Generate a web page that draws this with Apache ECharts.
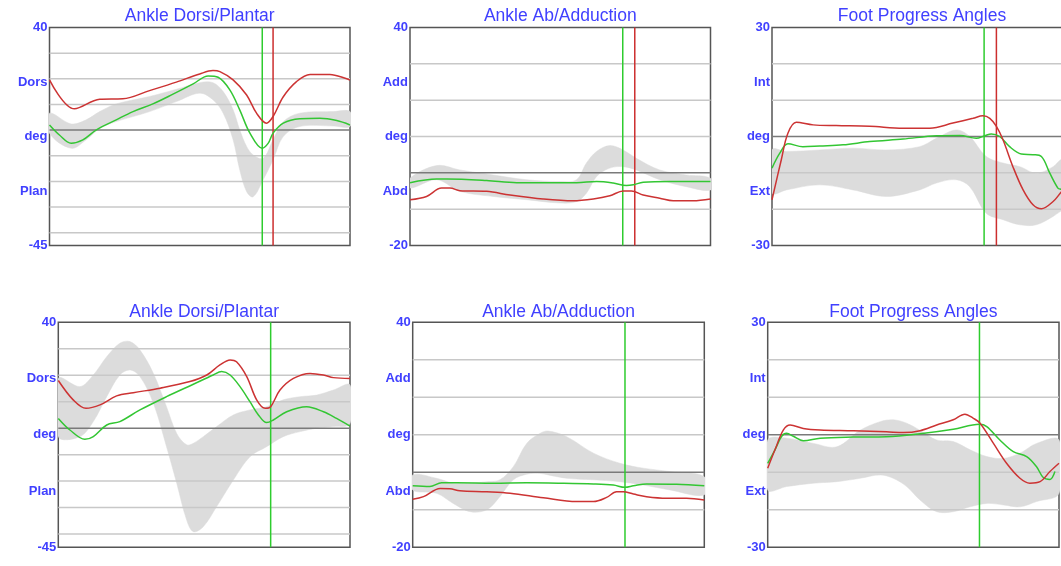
<!DOCTYPE html>
<html><head><meta charset="utf-8">
<script src="https://cdn.jsdelivr.net/npm/echarts@6/dist/echarts.min.js"></script>
<style>html,body{margin:0;padding:0;background:#fff}#c{width:1061px;height:566px}</style>
</head><body><div id="c"></div>
<script>
// ---------- DATA ----------
const titles = ['Ankle Dorsi/Plantar','Ankle Ab/Adduction','Foot Progress Angles','Ankle Dorsi/Plantar','Ankle Ab/Adduction','Foot Progress Angles'];
const yMin = [-45,-20,-30,-45,-20,-30];
const yMax = [40,40,30,40,40,30];
const tickLabels = [
  ['-45','Plan','deg','Dors','40'],
  ['-20','Abd','deg','Add','40'],
  ['-30','Ext','deg','Int','30'],
  ['-45','Plan','deg','Dors','40'],
  ['-20','Abd','deg','Add','40'],
  ['-30','Ext','deg','Int','30']
];
const gridValues = [
  [-40,-30,-20,-10,10,20,30],
  [-10,10,20,30],
  [-20,-10,10,20],
  [-40,-30,-20,-10,10,20,30],
  [-10,10,20,30],
  [-20,-10,10,20]
];
const zeroValue = 0;
const greenEvent = [70.8, 70.8, 70.7, 72.8, 72.8, 72.7];
const redEvent = [74.4, 74.8, 74.8, null, null, null];

// Panel 1: Ankle Dorsi/Plantar (top)
const p1RedX = [0, 8.3, 16.7, 24.4, 33.3, 42.2, 50, 54.4, 56.7, 61.1, 65.6, 68.9, 72.2, 74.4, 77.8, 82.2, 86.7, 93.3, 98.9, 100];
const p1RedY = [19.6, 8.3, 12, 12.2, 15.4, 18.7, 21.9, 23.2, 22.8, 19.6, 13.7, 6.6, 2.7, 5.3, 13, 18.9, 21.7, 21.7, 20, 19.5];
const p1GreenX = [0, 3.3, 7.2, 11.1, 15.6, 22.2, 27.8, 34.4, 41.1, 47.8, 52.8, 56.1, 60, 63.3, 66.7, 70.8, 72.8, 74.4, 77.8, 83.3, 90, 95.6, 100];
const p1GreenY = [2, -1.9, -5.1, -3.8, 0.1, 4, 7.2, 10.2, 14, 18, 21.1, 20.6, 15.7, 7.9, -1.2, -7.1, -5.1, -1.2, 2.7, 4.4, 4.6, 3.7, 2];
const p1BandX = [0, 7.2, 12.2, 16.7, 22.2, 33.3, 42.2, 50, 54.4, 57.8, 61.1, 63.3, 65.6, 67.8, 71.1, 74.4, 77.8, 83.3, 94.4, 100];
const p1BandHigh = [6.6, 2.4, 4, 7.2, 10.2, 13.1, 15.9, 18.5, 18.5, 15, 7.9, 0.1, -6.4, -9.7, -11, -3.8, 3.3, 6.6, 7.2, 7.2];
const p1BandLow = [-1.2, -7.1, -3.8, 0.6, 3.3, 7.2, 11.1, 14.4, 11.8, 6.6, -3.8, -15.5, -24, -26, -19.4, -11.6, -2.5, 1.4, 1.6, 1.4];

// Panel 2: Ankle Ab/Adduction (top)
const p2RedX = [0, 5.5, 10.5, 13.3, 16.6, 25.5, 33.3, 44.3, 54.3, 61, 66.5, 71, 73.7, 77.6, 83.1, 87.6, 94.2, 100];
const p2RedY = [-7.4, -6.5, -4.2, -4.2, -4.9, -5.1, -6.1, -7.2, -7.7, -7.2, -6.3, -5, -5, -6.1, -7, -7.7, -7.7, -7.2];
const p2GreenX = [0, 8.9, 12.2, 25.5, 35.5, 55.4, 62.1, 67.6, 72, 74.3, 77.6, 86.5, 100];
const p2GreenY = [-2.7, -1.7, -1.7, -2.1, -2.7, -2.7, -2.4, -2.8, -3.5, -3.3, -2.6, -2.4, -2.4];
const p2BandX = [0, 8.9, 16.6, 27.7, 38.8, 49.9, 55.4, 58.7, 62.1, 66.5, 70.9, 75.3, 83.1, 91.9, 100];
const p2BandHigh = [-1.5, 2, 0.8, -0.6, -1.9, -2.4, -1.9, 2.7, 5.9, 7.5, 6.3, 4, 0.8, -0.6, -1.5];
const p2BandLow = [-4.2, -1.9, -5.1, -6.5, -7.4, -8.3, -7.9, -5.6, -1, 1.3, 1.7, 0.8, -1.9, -3.8, -4.7];

// Panel 3: Foot Progress Angles (top)
const p3RedX = [0, 3.1, 5.3, 8.1, 13.7, 21.4, 32.6, 43.7, 52.6, 60.3, 67, 70.3, 72.6, 74.8, 77, 80.3, 83.7, 87, 89.8, 93.7, 96.2, 100];
const p3RedY = [-17.4, -6.4, 0.9, 3.9, 3.2, 3, 2.8, 2.3, 2.3, 3.7, 5, 5.7, 5, 2.8, -0.9, -8.3, -14.7, -18.8, -19.9, -17.9, -15.5, -12];
const p3GreenX = [0, 2.6, 5.3, 10.3, 15.9, 23.7, 32.6, 43.7, 54.8, 62.6, 68.1, 70.9, 73.1, 75.9, 79.2, 83.1, 87, 89.8, 92.6, 95.3, 96.2, 100];
const p3GreenY = [-8.7, -4.6, -2, -2.8, -2.6, -2.3, -1.4, -0.7, 0.2, 0.3, -0.5, 0.2, 0.7, 0, -2.8, -4.8, -5, -5.5, -10.1, -14.2, -14.5, -15];
const p3BandX = [0, 4.8, 15.9, 27, 38.1, 49.2, 54.8, 61.4, 65.9, 71.4, 77, 82.6, 88.1, 93.7, 96.2, 100];
const p3BandHigh = [-3.7, -4.1, -3.7, -3.2, -3.7, -2.8, -0.5, 1.8, 0, -5.5, -7.3, -8.3, -10.1, -8.3, -6.4, -5];
const p3BandLow = [-15.6, -14.7, -13.3, -14.7, -16.5, -14.7, -12.8, -11.9, -13.8, -21.1, -22.9, -24.3, -24.3, -22, -20.6, -19];

// Panel 4: Ankle Dorsi/Plantar (bottom)
const p4RedX = [0, 5.1, 9.5, 14.3, 20, 25.7, 34.9, 45.1, 50.9, 55.4, 58.9, 61.1, 64.6, 68, 70.9, 72.8, 76, 80.6, 86.3, 90.9, 94.3, 100];
const p4RedY = [18, 10.7, 7.5, 8.8, 12.2, 13.4, 15.1, 17.6, 20.1, 23.9, 25.8, 25.1, 19.5, 10.7, 7.5, 8.1, 14.4, 18.8, 20.7, 20.1, 19.1, 18.8];
const p4GreenX = [0, 4, 9.1, 12, 16.6, 21.1, 28, 37.1, 46.3, 53.1, 56, 58.9, 62.3, 65.7, 68.6, 71.4, 73.7, 78.3, 85.1, 90.9, 95.4, 100];
const p4GreenY = [3.7, -0.7, -4.2, -3.2, 1.2, 2.5, 6.9, 11.9, 16.6, 20.1, 21.4, 20.1, 15.7, 10, 5, 2.1, 3.1, 6.2, 8.1, 6.2, 3.7, 0.8];
const p4BandX = [0, 7.4, 12, 16.6, 21.1, 24.6, 28, 32.6, 37.1, 40.6, 44, 46.3, 49.7, 54.3, 60, 65.7, 71.4, 77.1, 82.9, 88.6, 94.3, 100];
const p4BandHigh = [18.8, 15.7, 20.1, 27, 32.1, 32.7, 29.5, 20.7, 8.1, -2, -6.3, -5.7, -3.2, 0.6, 5, 6.9, 8.1, 10.7, 11.9, 12.5, 14.4, 16.3];
const p4BandLow = [-3.2, -3.2, 2.5, 11.9, 20.1, 22, 19.5, 9.4, -7, -20.8, -34.7, -39.1, -37.2, -29.6, -19.6, -10.8, -7, -3.2, -1.3, 0, 0.6, 1.8];

// Panel 5: Ankle Ab/Adduction (bottom)
const p5RedX = [0, 3.7, 9.4, 12.8, 16.2, 25.4, 33.4, 44.8, 56.2, 62, 66.5, 69.9, 72.2, 75.7, 80.2, 87.1, 93.9, 100];
const p5RedY = [-7.2, -6.5, -4.3, -4.4, -4.9, -5.2, -5.6, -6.8, -7.8, -7.8, -6.7, -5.2, -5.2, -5.8, -6.5, -6.9, -6.9, -7.4];
const p5GreenX = [0, 5.9, 9.9, 15.1, 27.7, 39.1, 50.5, 62, 68.8, 72.8, 75.7, 80.2, 90.5, 100];
const p5GreenY = [-3.6, -3.8, -2.8, -2.8, -2.9, -2.8, -2.9, -3.1, -3.4, -4, -3.6, -3.1, -3.2, -3.6];
const p5BandX = [0, 8.2, 13.9, 19.7, 25.4, 29.9, 34.5, 39.1, 43.7, 46.5, 52.8, 62, 71.1, 79.1, 88.2, 100];
const p5BandHigh = [-0.7, -1.6, -2.9, -2.9, -2.5, -2, 1.5, 7.7, 10.4, 11, 9.5, 5.1, 2.4, 1.1, 0.2, -1.2];
const p5BandLow = [-4.7, -5.6, -8.3, -10.5, -10, -6.5, -2, -0.5, -0.3, -0.7, -1.6, -2, -2.5, -3.4, -4.7, -6];

// Panel 6: Foot Progress Angles (bottom)
const p6RedX = [0, 2.5, 5.4, 7.7, 12.2, 18, 29.4, 40.8, 46.6, 52.3, 58, 63.7, 67.7, 70.6, 72.9, 77.5, 82, 86.6, 90, 93.5, 96.9, 100];
const p6RedY = [-8.9, -4, 1.3, 2.6, 1.7, 1.3, 1.1, 0.8, 0.6, 1.1, 2.6, 4, 5.5, 4.4, 3.1, -2.3, -7.6, -11.6, -12.9, -12.5, -9.8, -7.6];
const p6GreenX = [0, 2.5, 4.8, 6.5, 8.8, 12.2, 18, 29.4, 40.8, 52.3, 63.7, 72.7, 75.2, 79.7, 84.3, 88.9, 92.3, 94.6, 96.9, 98.6];
const p6GreenY = [-7.6, -4, -0.4, 0.4, -0.4, -1.6, -0.9, -0.6, -0.5, 0.3, 1.5, 2.8, 2.2, -1.4, -4.5, -5.8, -8.5, -11.4, -11.9, -9.8];
const p6BandX = [0, 6.5, 15.7, 23.7, 31.7, 38.6, 43.1, 47.7, 52.3, 58, 63.7, 69.5, 75.2, 80.9, 86.6, 92.3, 100];
const p6BandHigh = [-1.4, -0.9, -2.3, -3.2, 1.2, 3.5, 4, 3.1, 1.2, -1.4, -1.8, -4, -5.8, -6.3, -4.9, -2.3, -1.4];
const p6BandLow = [-14.7, -13.8, -12.9, -12.5, -11.6, -10.7, -11.6, -13.8, -17.4, -20.5, -20.5, -19.2, -18.3, -18.7, -19.2, -17.8, -15.6];

// ---------- BUILD ----------
const curves = [
  {red:[p1RedX,p1RedY], green:[p1GreenX,p1GreenY], band:[p1BandX,p1BandLow,p1BandHigh]},
  {red:[p2RedX,p2RedY], green:[p2GreenX,p2GreenY], band:[p2BandX,p2BandLow,p2BandHigh]},
  {red:[p3RedX,p3RedY], green:[p3GreenX,p3GreenY], band:[p3BandX,p3BandLow,p3BandHigh]},
  {red:[p4RedX,p4RedY], green:[p4GreenX,p4GreenY], band:[p4BandX,p4BandLow,p4BandHigh]},
  {red:[p5RedX,p5RedY], green:[p5GreenX,p5GreenY], band:[p5BandX,p5BandLow,p5BandHigh]},
  {red:[p6RedX,p6RedY], green:[p6GreenX,p6GreenY], band:[p6BandX,p6BandLow,p6BandHigh]}
];

const layout = [
  {left:49.5, top:27.5, width:300.5, height:218, gap:2},
  {left:410,  top:27.5, width:300.5, height:218, gap:2},
  {left:772,  top:27.5, width:300,   height:218, gap:2},
  {left:58.3, top:322.3, width:291.7, height:225, gap:1},
  {left:412.7,top:322.3, width:291.6, height:225, gap:1},
  {left:767.7,top:322.3, width:291.3, height:225, gap:1}
];

const FONT = 'Liberation Sans, Arial, sans-serif';
const BLUE = '#4040ff';
const RED = '#cc3333';
const GREEN = '#33c633';
const zip = (xs, ys) => xs.map((x, k) => [x, ys[k]]);

const grid = [], xAxis = [], yAxis = [], series = [];
layout.forEach((L, i) => {
  grid.push({left:L.left, top:L.top, width:L.width, height:L.height, show:true,
    backgroundColor:'#fff', borderColor:'#555', borderWidth:1.5, outerBoundsMode:'none', containLabel:false});
  xAxis.push({gridIndex:i, type:'value', min:0, max:100, show:false});
  xAxis.push({gridIndex:i, type:'value', min:0, max:100, position:'top',
    axisLine:{show:false}, axisTick:{show:false}, axisLabel:{show:false}, splitLine:{show:false},
    name:titles[i], nameLocation:'middle', nameGap:L.gap,
    nameTextStyle:{color:BLUE, fontSize:17.5, fontFamily:FONT}});
  yAxis.push({gridIndex:i, type:'value', min:yMin[i], max:yMax[i], show:false});
  const labs = tickLabels[i];
  yAxis.push({gridIndex:i, type:'value', min:0, max:4, interval:1, position:'left',
    axisLine:{show:false}, axisTick:{show:false}, splitLine:{show:false},
    axisLabel:{color:BLUE, fontSize:13, fontWeight:'bold', fontFamily:FONT, margin:2,
      formatter: v => labs[Math.round(v)]}});
  const xi = 2*i, yi = 2*i;
  const c = curves[i];
  const [bx, blo, bhi] = c.band;
  const bandData = bx.map((x, k) => [x, blo[k], bhi[k]]);
  series.push({type:'custom', xAxisIndex:xi, yAxisIndex:yi, data:bandData, z:1, silent:true, clip:true,
    encode:{x:0, y:[1,2]},
    renderItem: (params, api) => {
      if (params.dataIndex !== 0) return null;
      const upper = bandData.map(d => api.coord([d[0], d[2]]));
      const lower = bandData.map(d => api.coord([d[0], d[1]])).reverse();
      return {type:'polygon', shape:{points:upper.concat(lower), smooth:0.35},
         style:{fill:'#dcdcdc', stroke:'#dcdcdc', lineWidth:0.5}};
    }});
  gridValues[i].forEach(v => {
    series.push({type:'line', xAxisIndex:xi, yAxisIndex:yi, data:[[0, v],[100, v]], symbol:'none',
      lineStyle:{color:'#c8c8c8', width:1.5}, z:2, silent:true});
  });
  series.push({type:'line', xAxisIndex:xi, yAxisIndex:yi, data:[[0, zeroValue],[100, zeroValue]], symbol:'none',
    lineStyle:{color:'#7a7a7a', width:1.5}, z:2, silent:true});
  series.push({type:'line', xAxisIndex:xi, yAxisIndex:yi, data:[[greenEvent[i], yMin[i]],[greenEvent[i], yMax[i]]],
    symbol:'none', lineStyle:{color:'#2ecc2e', width:1.5}, z:3, silent:true});
  if (redEvent[i] !== null) {
    series.push({type:'line', xAxisIndex:xi, yAxisIndex:yi, data:[[redEvent[i], yMin[i]],[redEvent[i], yMax[i]]],
      symbol:'none', lineStyle:{color:'#cc2e2e', width:1.5}, z:3, silent:true});
  }
  series.push({type:'line', xAxisIndex:xi, yAxisIndex:yi, data: zip(c.green[0], c.green[1]), symbol:'none',
    smooth:0.35, lineStyle:{color:GREEN, width:1.5}, z:4, silent:true});
  series.push({type:'line', xAxisIndex:xi, yAxisIndex:yi, data: zip(c.red[0], c.red[1]), symbol:'none',
    smooth:0.35, lineStyle:{color:RED, width:1.5}, z:5, silent:true});
});

const chart = echarts.init(document.getElementById('c'), null, {renderer:'canvas'});
chart.setOption({animation:false, backgroundColor:'#fff', grid, xAxis, yAxis, series});
</script>
</body></html>
